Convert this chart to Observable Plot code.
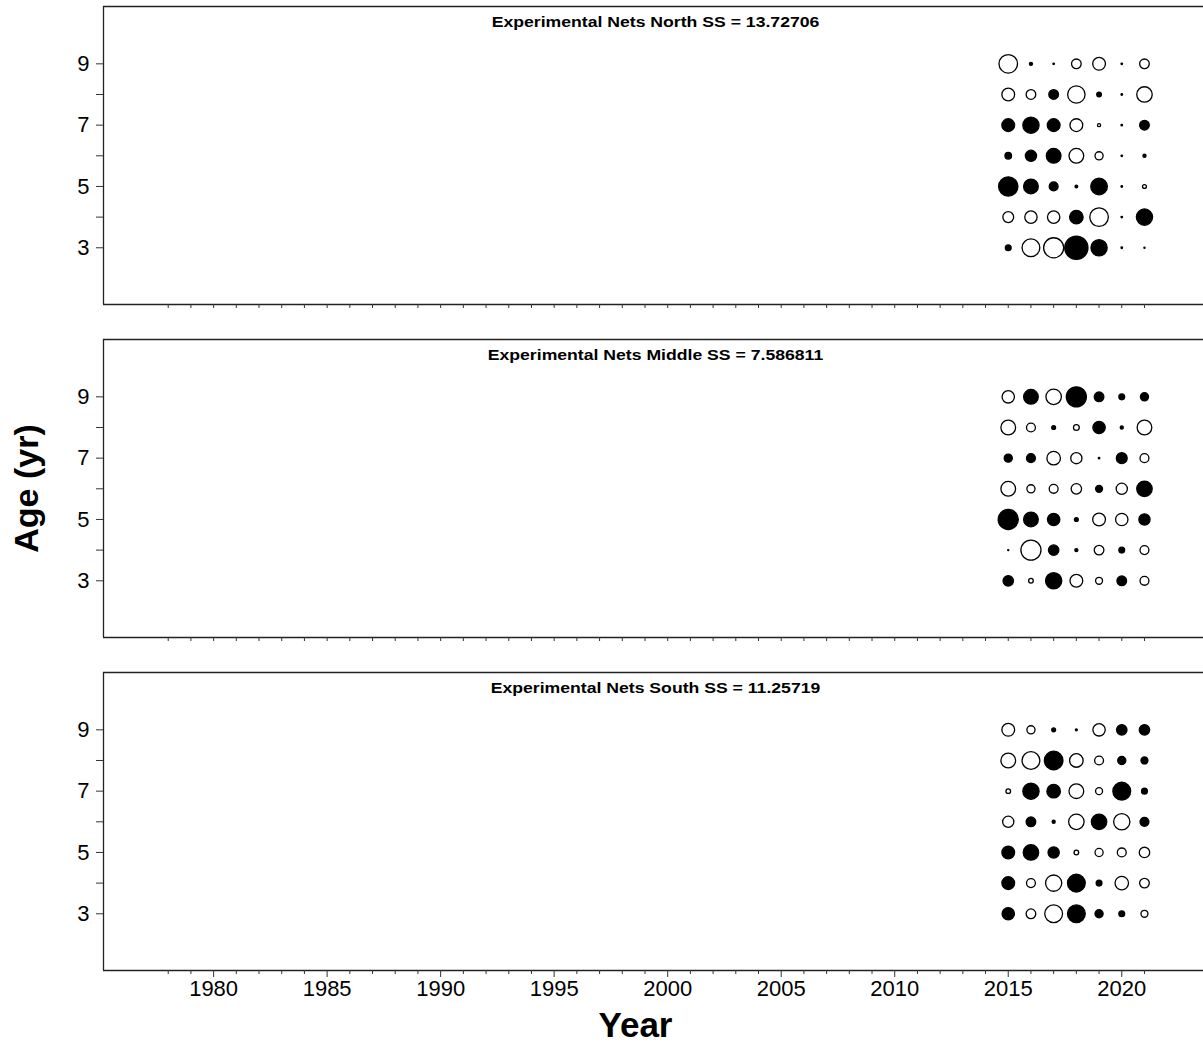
<!DOCTYPE html>
<html>
<head>
<meta charset="utf-8">
<script src="https://cdn.jsdelivr.net/npm/d3@7"></script>
<script src="https://cdn.jsdelivr.net/npm/@observablehq/plot@0.6"></script>
<style>
  html, body { margin: 0; padding: 0; background: white; overflow: hidden; }
  #chart svg { display: block; }
</style>
</head>
<body>
<div id="chart"></div>
<script>
// ---- data ----
const years = [2015, 2016, 2017, 2018, 2019, 2020, 2021];
const ages = [9, 8, 7, 6, 5, 4, 3];
// residuals: rows = ages (9..3), columns = years (2015..2021); positive = filled, negative = open
const northResid = [
  [-2.4, 0.4, 0.2, -1.25, -1.65, 0.2, -1.25],
  [-1.65, -1.25, 1.25, -2.25, 0.6, 0.2, -2.0],
  [1.65, 2.1, 1.65, -1.65, -0.4, 0.2, 1.25],
  [0.85, 1.45, 1.9, -1.9, -1.05, 0.2, 0.4],
  [2.5, 1.9, 1.15, 0.35, 2.15, 0.2, -0.5],
  [-1.4, -1.6, -1.6, 1.75, -2.4, 0.2, 2.1],
  [0.75, -2.3, -2.6, 3.0, 2.1, 0.2, 0.15]
];
const middleResid = [
  [-1.6, 1.9, -2.0, 2.6, 1.25, 0.75, 1.05],
  [-1.9, -1.15, 0.5, -0.75, 1.6, 0.4, -1.9],
  [1.05, 1.15, -1.75, -1.45, 0.2, 1.4, -1.15],
  [-1.9, -1.05, -1.15, -1.35, 0.9, -1.45, 2.0],
  [2.6, 1.9, 1.6, 0.5, -1.65, -1.6, 1.45],
  [0.15, -2.6, 1.35, 0.4, -1.25, 0.75, -1.15],
  [1.35, -0.6, 2.1, -1.65, -0.9, 1.25, -1.15]
];
const southResid = [
  [-1.65, -1.05, 0.5, 0.25, -1.6, 1.35, 1.35],
  [-1.9, -2.3, 2.4, -1.75, -1.15, 1.05, 0.9],
  [-0.6, 2.1, 1.75, -1.9, -0.9, 2.3, 0.75],
  [-1.45, 1.25, 0.4, -2.0, 2.0, -2.1, 1.15],
  [1.65, 2.0, 1.45, -0.6, -1.05, -1.15, -1.35],
  [1.65, -1.15, -2.1, 2.3, 0.75, -1.75, -1.25],
  [1.6, -1.25, -2.3, 2.3, 1.05, 0.75, -0.9]
];
const panelTitles = [
  "Experimental Nets North SS = 13.72706",
  "Experimental Nets Middle SS = 7.586811",
  "Experimental Nets South SS = 11.25719"
];
const yTickLabels = [3, 5, 7, 9];
const yMinorTicks = [4, 6, 8];
const xTickLabels = [1980, 1985, 1990, 1995, 2000, 2005, 2010, 2015, 2020];
const xMinorTicks = d3.range(1978, 2022);
const xLabel = "Year";
const yLabel = "Age (yr)";

// ---- chart ----
const xDomain = [1975.15, 2023.6];
const yDomain = [1.15, 10.87];
const FONT = "'Liberation Sans', Arial, sans-serif";
const titleStretch = 1.175; // reference title lettering is wider than its height suggests

function toRows(mat) {
  const out = [];
  mat.forEach((row, i) => row.forEach((v, j) => out.push({year: years[j], age: ages[i], v})));
  return out;
}

const panels = [northResid, middleResid, southResid];
const container = document.getElementById("chart");

panels.forEach((mat, idx) => {
  const last = idx === 2;
  const data = toRows(mat);
  const marks = [
    Plot.ruleX([xDomain[0]], {stroke: "#222", strokeWidth: 1.3}),
    Plot.ruleY([yDomain[0], yDomain[1]], {stroke: "#222", strokeWidth: 1.3}),
    Plot.axisY({ticks: yTickLabels, tickSize: 7, tickPadding: 7, fontSize: 22, label: null, stroke: "#333"}),
    Plot.axisY({ticks: yMinorTicks, tickSize: 7, tickFormat: () => "", label: null, stroke: "#333"}),
    Plot.text([panelTitles[idx]], {frameAnchor: "top", dy: 16, dx: 2, lineAnchor: "middle", fontWeight: "bold", fontSize: 15, fill: "black", className: "ptitle"}),
    Plot.dot(data, {
      x: "year", y: "age",
      r: d => Math.abs(d.v),
      fill: d => d.v > 0 ? "black" : "white",
      stroke: "black", strokeWidth: 1.3
    })
  ];
  if (!last) {
    marks.push(Plot.axisX({ticks: xMinorTicks, tickSize: 4, tickFormat: () => "", label: null, stroke: "#333"}));
  } else {
    marks.push(Plot.axisX({ticks: xMinorTicks.filter(y => !xTickLabels.includes(y)), tickSize: 4, tickFormat: () => "", label: null, stroke: "#333"}));
    marks.push(Plot.axisX({ticks: xTickLabels, tickSize: 7, tickPadding: 3, fontSize: 22, tickFormat: d => String(d), label: null, stroke: "#333"}));
    marks.push(Plot.text([xLabel], {frameAnchor: "bottom", dy: 55, dx: -18, lineAnchor: "middle", fontWeight: "bold", fontSize: 35, fill: "black"}));
  }
  if (idx === 1) {
    marks.push(Plot.text([yLabel], {frameAnchor: "left", dx: -76, rotate: -90, textAnchor: "middle", lineAnchor: "middle", fontWeight: "bold", fontSize: 34, fill: "black"}));
  }
  const svg = Plot.plot({
    width: 1203,
    height: last ? 378 : 333,
    marginLeft: 103,
    marginRight: 0,
    marginTop: 6,
    marginBottom: last ? 74 : 29,
    style: {fontFamily: FONT, background: "white", overflow: "visible", color: "black"},
    x: {domain: xDomain, axis: null},
    y: {domain: yDomain, axis: null},
    r: {type: "linear", domain: [0, 3], range: [0, 11.6]},
    marks
  });
  container.appendChild(svg);
  svg.querySelectorAll(".ptitle text").forEach(t => {
    const natural = t.getComputedTextLength();
    t.setAttribute("textLength", (natural * titleStretch).toFixed(1));
    t.setAttribute("lengthAdjust", "spacingAndGlyphs");
  });
});
</script>
</body>
</html>
